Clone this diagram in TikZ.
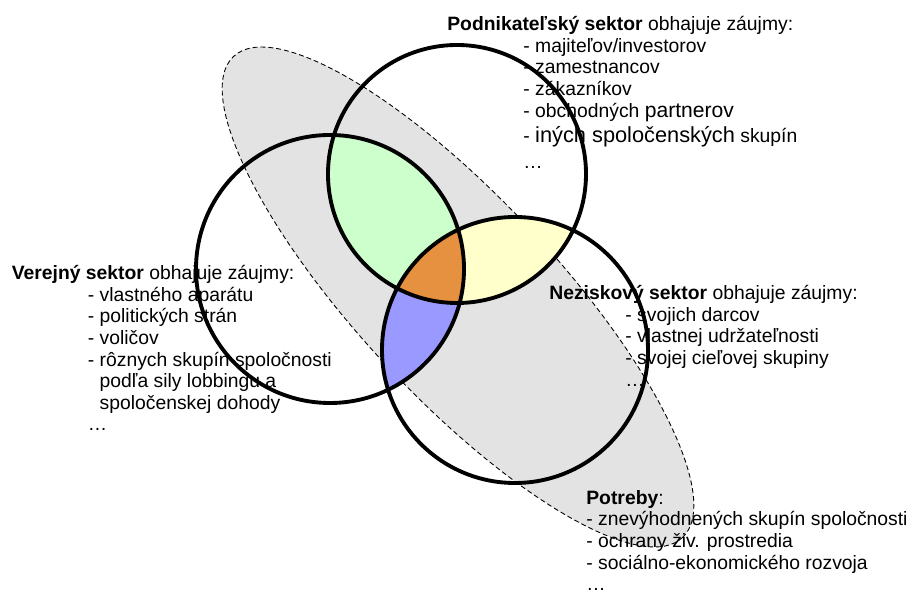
\documentclass[tikz,border=0pt]{standalone}
\usepackage{fontspec}
\setmainfont{Liberation Sans}
\definecolor{sivaplocha}{RGB}{227,227,227}
\definecolor{zelena}{RGB}{204,255,204}
\definecolor{zlta}{RGB}{255,255,204}
\definecolor{modra}{RGB}{153,153,255}
\definecolor{oranzova}{RGB}{229,145,64}
\tikzset{
  venn/.style={line width=2.2pt},
  popis/.style={anchor=north west,inner sep=0pt,align=left},
}
\newcommand\ind{\hspace*{43.3pt}}
\begin{document}
\begin{tikzpicture}[x=0.02cm,y=0.02cm,line join=round,font=\fontsize{11}{12.3}\selectfont]
	\def\rP{129}
	\def\rV{134}
	\def\rN{133}
	\useasboundingbox (0,0) rectangle (910,-590);
	\path
	(457,-174) coordinate (P)
	(330,-269) coordinate (V)
	(515,-350) coordinate (N)
	(458,-297) coordinate (S)
	;
	% potreby
	\fill[sivaplocha,rotate around={-47:(S)}] (S) ellipse (329 and 99);
	% texty
	\node[popis] (pod) at (447,-16) {\textbf{Podnikateľský sektor} obhajuje záujmy:\\
		\ind- majiteľov/investorov\\
		\ind- zamestnancov\\
		\ind- zákazníkov\\
		\ind- obchodných {\fontsize{12}{12.3}\selectfont partnerov}\\[2.3pt]
		\ind- {\fontsize{12.4}{12.3}\selectfont iných spoločenských} skupín\\[2.3pt]
		\ind…};
	\node[popis] (ver) at (11.5,-265) {\textbf{Verejný sektor} obhajuje záujmy:\\
		\ind- vlastného aparátu\\
		\ind- politických strán\\
		\ind- voličov\\
		\ind- rôznych skupín spoločnosti\\
		\ind\phantom{- }podľa sily lobbingu a\\
		\ind\phantom{- }spoločenskej dohody\\
		\ind…};
	\node[popis] (nez) at (549,-285) {\textbf{Neziskový sektor} obhajuje záujmy:\\
		\ind- svojich darcov\\
		\ind- vlastnej udržateľnosti\\
		\ind- svojej cieľovej skupiny\\
		\ind…};
	\node[popis] (pot) at (586,-490) {\textbf{Potreby}:\\
		- znevýhodnených skupín spoločnosti\\
		- ochrany živ. prostredia\\
		- sociálno-ekonomického rozvoja\\
		…};
	\draw[dash pattern=on 2.8pt off 1.7pt,line width=0.5pt,rotate around={-47:(S)}] (S) ellipse (329 and 99);
	% prieniky
	\begin{scope}
		\clip (P) circle (\rP);
		\fill[zelena] (V) circle (\rV);
		\fill[zlta] (N) circle (\rN);
	\end{scope}
	\begin{scope}
		\clip (V) circle (\rV);
		\fill[modra] (N) circle (\rN);
	\end{scope}
	\begin{scope}
		\clip (P) circle (\rP);
		\clip (V) circle (\rV);
		\fill[oranzova] (N) circle (\rN);
	\end{scope}
	\foreach \c/\rr in {P/\rP,V/\rV,N/\rN}
	\draw[venn] (\c) circle (\rr);
\end{tikzpicture}
\end{document}
